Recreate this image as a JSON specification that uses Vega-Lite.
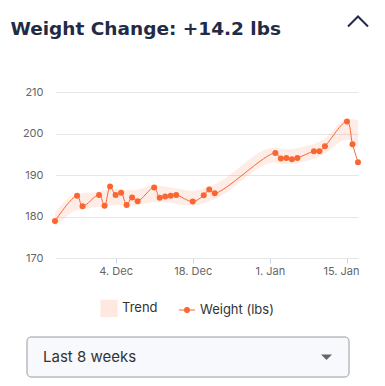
{
  "$schema": "https://vega.github.io/schema/vega-lite/v6.json",
  "background": "white",
  "padding": {"left": 10, "top": 12, "right": 10, "bottom": 5},
  "title": {"text": "Weight Change: +14.2 lbs", "anchor": "start", "frame": "bounds", "fontSize": 18.5, "fontWeight": "bold", "font": "DejaVu Sans", "color": "#222b45", "dx": -12, "offset": -26},
  "config": {"view": {"stroke": null}, "font": "Inter"},
  "columns": 1,
  "center": true,
  "spacing": 17,
  "resolve": {"scale": {"color": "independent"}, "legend": {"color": "independent"}},
  "concat": [
    {
      "width": 303,
      "height": 166,
      "data": {"values": [
        {"date": "2023-11-23T00:00:00", "weight": 178.9, "lo": 177.5, "hi": 181.0},
        {"date": "2023-11-27T00:00:00", "weight": 185.0, "lo": 181.5, "hi": 185.5},
        {"date": "2023-11-28T00:00:00", "weight": 182.5, "lo": 181.8, "hi": 185.6},
        {"date": "2023-12-01T00:00:00", "weight": 185.2, "lo": 182.3, "hi": 186.0},
        {"date": "2023-12-02T00:00:00", "weight": 182.6, "lo": 182.5, "hi": 186.3},
        {"date": "2023-12-03T00:00:00", "weight": 187.2, "lo": 182.7, "hi": 186.5},
        {"date": "2023-12-04T00:00:00", "weight": 185.2, "lo": 182.8, "hi": 186.6},
        {"date": "2023-12-05T00:00:00", "weight": 185.7, "lo": 182.7, "hi": 186.5},
        {"date": "2023-12-06T00:00:00", "weight": 182.8, "lo": 182.6, "hi": 186.3},
        {"date": "2023-12-07T00:00:00", "weight": 184.6, "lo": 182.6, "hi": 186.3},
        {"date": "2023-12-08T00:00:00", "weight": 183.7, "lo": 182.7, "hi": 186.5},
        {"date": "2023-12-11T00:00:00", "weight": 187.0, "lo": 183.5, "hi": 187.6},
        {"date": "2023-12-12T00:00:00", "weight": 184.5, "lo": 183.5, "hi": 187.4},
        {"date": "2023-12-13T00:00:00", "weight": 184.8, "lo": 183.4, "hi": 187.2},
        {"date": "2023-12-14T00:00:00", "weight": 185.0, "lo": 183.3, "hi": 187.0},
        {"date": "2023-12-15T00:00:00", "weight": 185.2, "lo": 183.1, "hi": 186.8},
        {"date": "2023-12-18T00:00:00", "weight": 183.6, "lo": 182.6, "hi": 186.2},
        {"date": "2023-12-20T00:00:00", "weight": 185.1, "lo": 183.2, "hi": 186.8},
        {"date": "2023-12-21T00:00:00", "weight": 186.5, "lo": 183.7, "hi": 187.3},
        {"date": "2023-12-22T00:00:00", "weight": 185.6, "lo": 184.2, "hi": 187.8},
        {"date": "2024-01-02T00:00:00", "weight": 195.3, "lo": 193.0, "hi": 196.6},
        {"date": "2024-01-03T00:00:00", "weight": 194.0, "lo": 192.8, "hi": 196.3},
        {"date": "2024-01-04T00:00:00", "weight": 194.1, "lo": 192.7, "hi": 196.2},
        {"date": "2024-01-05T00:00:00", "weight": 193.8, "lo": 192.7, "hi": 196.2},
        {"date": "2024-01-06T00:00:00", "weight": 194.1, "lo": 192.9, "hi": 196.5},
        {"date": "2024-01-09T00:00:00", "weight": 195.7, "lo": 193.9, "hi": 197.5},
        {"date": "2024-01-10T00:00:00", "weight": 195.7, "lo": 194.4, "hi": 198.0},
        {"date": "2024-01-11T00:00:00", "weight": 196.9, "lo": 195.2, "hi": 198.8},
        {"date": "2024-01-15T00:00:00", "weight": 202.9, "lo": 198.5, "hi": 203.5},
        {"date": "2024-01-16T00:00:00", "weight": 197.4, "lo": 198.0, "hi": 203.5},
        {"date": "2024-01-17T00:00:00", "weight": 193.1, "lo": 196.5, "hi": 203.0}
      ]},
      "layer": [
        {
          "mark": {"type": "area", "interpolate": "monotone", "opacity": 0.12},
          "encoding": {
            "x": {
              "field": "date", "type": "temporal", "title": null,
              "scale": {"domain": [{"year": 2023, "month": 11, "date": 23}, {"year": 2024, "month": 1, "date": 17}], "nice": false},
              "axis": {
                "values": [{"year": 2023, "month": 12, "date": 4}, {"year": 2023, "month": 12, "date": 18}, {"year": 2024, "month": 1, "date": 1}, {"year": 2024, "month": 1, "date": 15}],
                "format": "%-d. %b", "grid": false, "domain": false, "ticks": true, "tickSize": 5, "tickColor": "#ccd6eb",
                "labelFontSize": 11, "labelColor": "#666666", "labelPadding": 2,
                "labelOffset": {"condition": {"test": "datum.value > datetime(2024, 0, 10)", "value": -6}, "value": 0}
              }
            },
            "y": {"field": "lo", "type": "quantitative", "title": null,
              "scale": {"domain": [170, 210], "nice": false},
              "axis": {"values": [170, 180, 190, 200, 210], "grid": true, "gridColor": "#e6e6e6", "domain": false, "ticks": false, "labelFontSize": 11, "labelColor": "#666666", "labelPadding": 12}},
            "y2": {"field": "hi"},
            "color": {
              "datum": "Trend", "type": "nominal",
              "scale": {"domain": ["Trend", "Weight (lbs)"], "range": ["#f96a3a", "#fa6632"]},
              "legend": {
                "orient": "none", "legendX": 45, "legendY": 207, "direction": "horizontal", "title": null,
                "labelFontSize": 13, "labelColor": "#333333", "symbolSize": 256,
                "columnPadding": 18, "labelOffset": 4,
                "encode": {"symbols": {"update": {
                  "shape": {"signal": "datum.value === 'Trend' ? 'square' : 'M-1,0L1,0M0.3,0A0.3,0.3,0,1,1,-0.3,0A0.3,0.3,0,1,1,0.3,0Z'"},
                  "stroke": {"signal": "datum.value === 'Trend' ? 'transparent' : '#fa6632'"},
                  "strokeWidth": {"value": 1.2},
                  "opacity": {"signal": "datum.value === 'Trend' ? 0.15 : 1"}
                }}}
              }
            }
          }
        },
        {
          "mark": {"type": "line", "interpolate": "catmull-rom", "strokeWidth": 1},
          "encoding": {
            "x": {"field": "date", "type": "temporal"},
            "y": {"field": "weight", "type": "quantitative", "title": null},
            "color": {
              "datum": "Weight (lbs)", "type": "nominal",
              "legend": {
                "orient": "none", "legendX": 45, "legendY": 207, "direction": "horizontal", "title": null,
                "labelFontSize": 13, "labelColor": "#333333", "symbolSize": 256,
                "columnPadding": 18, "labelOffset": 4,
                "encode": {"symbols": {"update": {
                  "shape": {"signal": "datum.value === 'Trend' ? 'square' : 'M-1,0L1,0M0.3,0A0.3,0.3,0,1,1,-0.3,0A0.3,0.3,0,1,1,0.3,0Z'"},
                  "stroke": {"signal": "datum.value === 'Trend' ? 'transparent' : '#fa6632'"},
                  "strokeWidth": {"value": 1.2},
                  "opacity": {"signal": "datum.value === 'Trend' ? 0.15 : 1"}
                }}}
              }
            }
          }
        },
        {
          "mark": {"type": "point", "filled": true, "size": 36, "opacity": 1},
          "encoding": {
            "x": {"field": "date", "type": "temporal"},
            "y": {"field": "weight", "type": "quantitative", "title": null},
            "color": {
              "datum": "Weight (lbs)", "type": "nominal",
              "legend": {
                "orient": "none", "legendX": 45, "legendY": 207, "direction": "horizontal", "title": null,
                "labelFontSize": 13, "labelColor": "#333333", "symbolSize": 256,
                "columnPadding": 18, "labelOffset": 4,
                "encode": {"symbols": {"update": {
                  "shape": {"signal": "datum.value === 'Trend' ? 'square' : 'M-1,0L1,0M0.3,0A0.3,0.3,0,1,1,-0.3,0A0.3,0.3,0,1,1,0.3,0Z'"},
                  "stroke": {"signal": "datum.value === 'Trend' ? 'transparent' : '#fa6632'"},
                  "strokeWidth": {"value": 1.2},
                  "opacity": {"signal": "datum.value === 'Trend' ? 0.15 : 1"}
                }}}
              }
            }
          }
        },
        {
          "data": {"values": [{"icon": "collapse"}]},
          "mark": {"type": "point", "shape": "M-1,0.5L0,-0.5L1,0.5", "filled": false, "stroke": "#222b45", "color": "#222b45", "strokeWidth": 2, "size": 400, "opacity": 1, "clip": false},
          "encoding": {
            "x": {"datum": {"year": 2024, "month": 1, "date": 17}, "type": "temporal"},
            "y": {"datum": 227, "type": "quantitative"}
          }
        }
      ]
    },
    {
      "width": 322,
      "height": 40,
      "data": {"values": [{"label": "Last 8 weeks"}]},
      "layer": [
        {"mark": {"type": "rect", "fill": "#f8f9fc", "stroke": "#9a9a9a", "strokeWidth": 1, "cornerRadius": 4}, "encoding": {}},
        {"mark": {"type": "text", "align": "left", "baseline": "middle", "dx": -145, "fontSize": 15, "color": "#333333"}, "encoding": {"text": {"field": "label"}}},
        {"mark": {"type": "point", "shape": "M133,-2.5L144,-2.5L138.5,3ZM212,0", "filled": true, "color": "#666666", "size": 4, "opacity": 1}, "encoding": {}}
      ]
    }
  ]
}
